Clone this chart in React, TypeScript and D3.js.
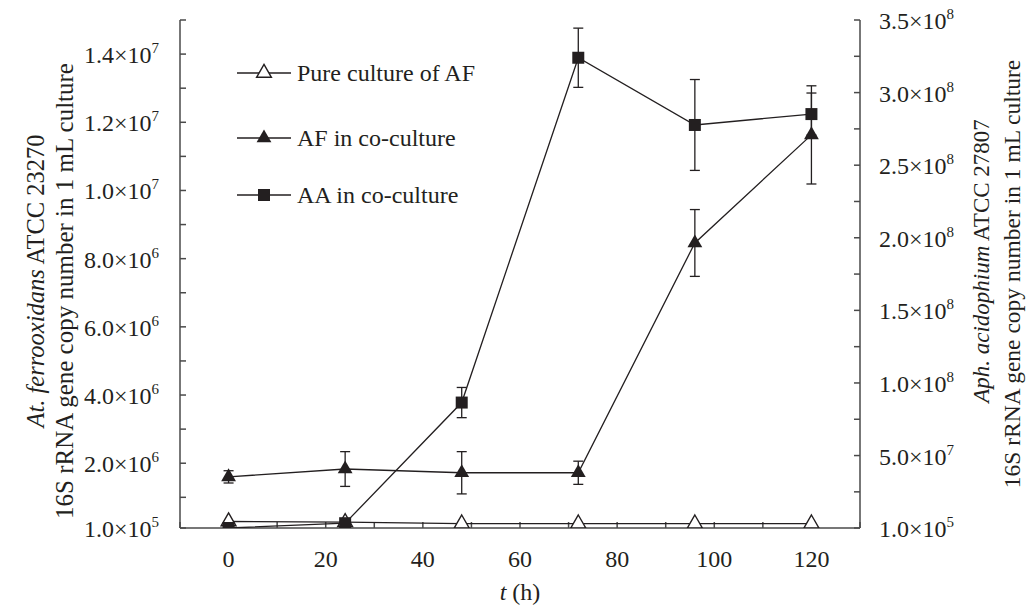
import React from "react";
import * as d3 from "d3";

// sampling times (h)
const times = [0, 24, 48, 72, 96, 120];

// left axis series (At. ferrooxidans)
const pureAF = [2.9e5, 2.7e5, 2.3e5, 2.3e5, 2.3e5, 2.3e5];
const afCo = [1.6e6, 1.83e6, 1.72e6, 1.72e6, 8.46e6, 1.163e7];
const afCoErr = [1.8e5, 5.1e5, 6.2e5, 3.4e5, 9.8e5, 1.44e6];

// right axis series (Aph. acidophium)
const aaCo = [1e5, 3.4e6, 8.65e7, 3.24e8, 2.777e8, 2.852e8];
const aaErr = [0, 0, 1.04e7, 2.04e7, 3.13e7, 1.45e7];

const xTicks = [0, 20, 40, 60, 80, 100, 120];
const xMinor = [-10, 0, 10, 20, 30, 40, 50, 60, 70, 80, 90, 100, 110, 120, 130];
const leftTicks = [1e5, 2e6, 4e6, 6e6, 8e6, 1e7, 1.2e7, 1.4e7];
const leftMinor = [1e6, 3e6, 5e6, 7e6, 9e6, 1.1e7, 1.3e7, 1.5e7];
const rightTicks = [1e5, 5e7, 1e8, 1.5e8, 2e8, 2.5e8, 3e8, 3.5e8];
const rightMinor = [2.5e7, 7.5e7, 1.25e8, 1.75e8, 2.25e8, 2.75e8, 3.25e8];

const legendItems = ["Pure culture of AF", "AF in co-culture", "AA in co-culture"];

const ink = "#231f20";
const axisCol = "#4a4a4a";
const font = "'Liberation Serif', 'Times New Roman', serif";

function sci(v: number): [string, number] {
    const e = Math.floor(Math.log10(v) + 1e-9);
    return [(v / Math.pow(10, e)).toFixed(1), e];
}

function SciLabel(props: { v: number; x: number; y: number; anchor: string }) {
    const [m, e] = sci(props.v);
    return <text x={props.x} y={props.y} textAnchor={props.anchor} fontSize={24}>
        {m}×10<tspan dy={-10} fontSize={15}>{e}</tspan>
    </text>;
}

const tri = d3.symbol().type(d3.symbolTriangle).size(95)() as string;
const sq = d3.symbol().type(d3.symbolSquare).size(144)() as string;

export default function App() {
    const left = 180, right = 860, top = 20, bottom = 528;
    const x = d3.scaleLinear().domain([-10, 130]).range([left, right]);
    const yL = d3.scaleLinear().domain([1e5, 1.5e7]).range([bottom, top]);
    const yR = d3.scaleLinear().domain([1e5, 3.5e8]).range([bottom, top]);

    const lineL = d3.line<number>().x((d, i) => x(times[i])).y(d => yL(d));
    const lineR = d3.line<number>().x((d, i) => x(times[i])).y(d => yR(d));

    const errBars = (vals: number[], errs: number[], y: d3.ScaleLinear<number, number>) =>
        vals.map((v, i) => {
            if (!errs[i]) return null;
            const cx = x(times[i]);
            const y1 = y(v + errs[i]), y2 = y(v - errs[i]);
            return <g key={i} stroke={ink} strokeWidth={1.3}>
                <line x1={cx} x2={cx} y1={y1} y2={y2} />
                <line x1={cx - 5} x2={cx + 5} y1={y1} y2={y1} />
                <line x1={cx - 5} x2={cx + 5} y1={y2} y2={y2} />
            </g>;
        });

    const legendY = [73, 138, 195];

    return <svg width={1026} height={606} style={{ position: "absolute", left: 0, top: 0 }}
        fontFamily={font} fill={ink}>
        <defs>
            <clipPath id="plot"><rect x={left} y={0} width={right - left} height={bottom} /></clipPath>
        </defs>

        {/* axes */}
        <g stroke={axisCol} strokeWidth={1.5} fill="none">
            <line x1={left} x2={left} y1={top} y2={bottom} />
            <line x1={right} x2={right} y1={top} y2={bottom} />
            <line x1={left} x2={right} y1={bottom} y2={bottom} />
            {leftTicks.concat(leftMinor).map(t => <line key={"l" + t} x1={left} x2={left + 6} y1={yL(t)} y2={yL(t)} />)}
            {rightTicks.concat(rightMinor).map(t => <line key={"r" + t} x1={right - 6} x2={right} y1={yR(t)} y2={yR(t)} />)}
            {xMinor.map(t => <line key={"x" + t} x1={x(t)} x2={x(t)} y1={bottom} y2={bottom - 6} />)}
        </g>

        {leftTicks.map(t => <SciLabel key={t} v={t} x={159} y={yL(t) + 9} anchor="end" />)}
        {rightTicks.map(t => <SciLabel key={t} v={t} x={879} y={yR(t) + 9} anchor="start" />)}
        {xTicks.map(t => <text key={t} x={x(t)} y={567} textAnchor="middle" fontSize={24}>{t}</text>)}

        <text x={520} y={600} textAnchor="middle" fontSize={24}>
            <tspan fontStyle="italic">t</tspan> (h)
        </text>

        <g textAnchor="middle">
            <text transform="translate(44,281) rotate(-90)" fontSize={24.5}>
                <tspan fontStyle="italic">At. ferrooxidans</tspan> ATCC 23270
            </text>
            <text transform="translate(73,291) rotate(-90)" fontSize={25}>16S rRNA gene copy number in 1 mL culture</text>
            <text transform="translate(989,261) rotate(-90)" fontSize={23}>
                <tspan fontStyle="italic">Aph. acidophium</tspan> ATCC 27807
            </text>
            <text transform="translate(1020,274) rotate(-90)" fontSize={23.5}>16S rRNA gene copy number in 1 mL culture</text>
        </g>

        {/* data */}
        <g clipPath="url(#plot)">
            <path d={lineL(pureAF) as string} fill="none" stroke={ink} strokeWidth={1.3} />
            <path d={lineL(afCo) as string} fill="none" stroke={ink} strokeWidth={1.3} />
            <path d={lineR(aaCo) as string} fill="none" stroke={ink} strokeWidth={1.3} />
            {errBars(afCo, afCoErr, yL)}
            {errBars(aaCo, aaErr, yR)}
            {pureAF.map((v, i) => <path key={"p" + i} d={tri} transform={`translate(${x(times[i])},${yL(v)})`}
                fill="#fff" stroke={ink} strokeWidth={1.4} />)}
            {afCo.map((v, i) => <path key={"a" + i} d={tri} transform={`translate(${x(times[i])},${yL(v)})`} fill={ink} />)}
            {aaCo.map((v, i) => <path key={"s" + i} d={sq} transform={`translate(${x(times[i])},${yR(v)})`} fill={ink} />)}
        </g>

        {/* legend */}
        {legendItems.map((name, i) => <g key={name}>
            <line x1={237} x2={291} y1={legendY[i]} y2={legendY[i]} stroke={ink} strokeWidth={1.3} />
            <path d={i === 2 ? sq : tri} transform={`translate(264,${legendY[i]})`}
                fill={i === 0 ? "#fff" : ink} stroke={i === 0 ? ink : "none"} strokeWidth={1.4} />
            <text x={297} y={legendY[i] + 8} fontSize={24}>{name}</text>
        </g>)}
    </svg>;
}
